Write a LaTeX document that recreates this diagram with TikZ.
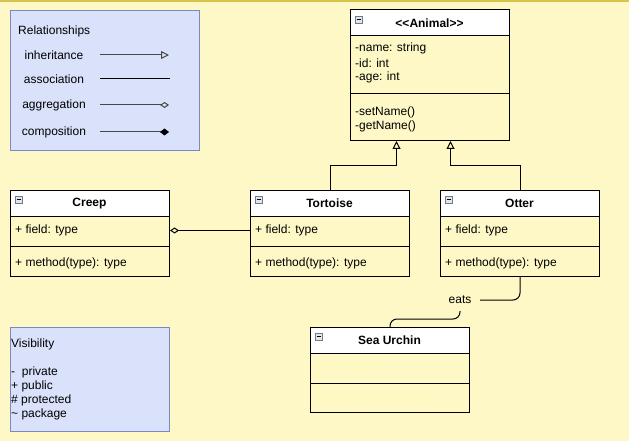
\documentclass[tikz,border=0pt]{standalone}
\usepackage{fontspec}
\setmainfont{Liberation Sans}
\usetikzlibrary{arrows.meta}
\definecolor{bg}{HTML}{FDF8C6}
\definecolor{topline}{HTML}{D9C54E}
\definecolor{legfill}{HTML}{DAE2FB}
\definecolor{legdraw}{HTML}{7A88C8}
\definecolor{faint}{HTML}{FFFAB6}
\definecolor{icondraw}{HTML}{6F7A8C}
\definecolor{iconfill}{HTML}{E4E6EA}
\tikzset{
  every node/.style={font=\fontsize{12}{14}\selectfont, inner sep=0pt},
  classbox/.style={draw, line width=1pt, minimum width=159pt, anchor=north west, inner sep=0pt},
  legbox/.style={draw=legdraw, fill=legfill, line width=1pt, anchor=north west},
  txt/.style={anchor=west},
  ctitle/.style={font=\fontsize{12}{14}\selectfont\bfseries},
  inh/.style={line width=1pt, -{Triangle[open,length=8pt,width=8pt]}},
  agg/.style={line width=1pt, -{Diamond[open,length=9pt,width=6pt]}},
  comp/.style={line width=1pt, -{Diamond[length=9pt,width=7pt,color=black]}},
  assoc/.style={line width=1pt},
  legline/.style={black!72, line width=1.3pt},
}
\newcommand\umlbox[6]{%
  \node[classbox, minimum height=#4pt] (#1) at (#2,#3) {};
  \filldraw[fill=white, line width=1pt] (#2,#3) rectangle ++(159,26);
  \draw[line width=1pt] (#2,#3+#5) -- ++(159,0);
  \node[ctitle] at (#2+79.5,#3+13.5) {#6};
  \filldraw[draw=icondraw, fill=iconfill, line width=0.7pt] (#2+5,#3+6) rectangle ++(7,7);
  \draw[line width=1pt] (#2+6.5,#3+9.5) -- ++(4,0);
}
\begin{document}
\begin{tikzpicture}[x=1pt,y=-1pt]
\useasboundingbox (0,0) rectangle (629,441);
\fill[bg] (0,0) rectangle (629,441);
\fill[topline] (0,0) rectangle (629,1.6);

% legend: relationships
\node[legbox, minimum width=189pt, minimum height=140pt] (rel) at (10,10) {};
\node[txt] (reltitle) at (18,31) {Relationships};
\node (linh) at (54,55) {inheritance};
\node (lass) at (54,79) {association};
\node (lagg) at (54,105) {aggregation};
\node (lcomp) at (54,132) {composition};
\coordinate (a1) at (100,55); \coordinate (b1) at (169,55);
\coordinate (a2) at (100,79); \coordinate (b2) at (170,79);
\coordinate (a3) at (100,105); \coordinate (b3) at (169,105);
\coordinate (a4) at (100,132); \coordinate (b4) at (169,132);
\draw[legline, inh] (a1) -- (b1);
\draw[assoc] (a2) -- (b2);
\draw[legline, agg] (a3) -- (b3);
\draw[legline, comp] (a4) -- (b4);

% legend: visibility
\node[legbox, minimum width=159pt, minimum height=104pt] (vis) at (10,327) {};
\node[txt] at (11,344) {Visibility};
\node[txt] at (11,372) {-\ \ private};
\node[txt] at (11,386) {+ public};
\node[txt] at (11,400) {\# protected};
\node[txt] at (11,414) {\textasciitilde\ package};

% classes
\umlbox{animal}{350}{10}{130}{84}{<\kern0pt<Animal>\kern0pt>}
\node[txt] at (355,48) {-name: string};
\node[txt] at (355,63) {-id: int};
\node[txt] at (355,77) {-age: int};
\node[txt] at (355,112) {-setName()};
\node[txt] at (355,126) {-getName()};

\umlbox{creep}{10}{190}{86}{56}{Creep}
\node[txt] at (15,230) {+ field: type};
\node[txt] at (15,263) {+ method(type): type};

\umlbox{tortoise}{250}{190}{86}{56}{Tortoise}
\node[txt] at (255,230) {+ field: type};
\node[txt] at (255,263) {+ method(type): type};

\umlbox{otter}{440}{190}{86}{56}{Otter}
\node[txt] at (445,230) {+ field: type};
\node[txt] at (445,263) {+ method(type): type};

\umlbox{urchin}{310}{327}{85}{56}{Sea Urchin}
\node[txt, text=faint] at (315,367) {+ field: type};
\node[txt, text=faint] at (315,400) {+ method(type): type};

% connectors
\draw[inh] (tortoise.north) -- ++(0,-25) -| ([xshift=-33.5pt]animal.south);
\draw[inh] (otter.north) -- ++(0,-25) -| ([xshift=20.5pt]animal.south);
\draw[agg] ([yshift=3pt]tortoise.west) -- ([yshift=3pt]creep.east);
\coordinate (eatsc) at (460,300);
\draw[assoc, rounded corners=7pt] (otter.south) |- (eatsc) |- ([yshift=8pt]urchin.north) -- (urchin.north);
\node[fill=bg, minimum width=40pt, minimum height=22pt] (eats) at (eatsc) {eats};
\end{tikzpicture}
\end{document}
